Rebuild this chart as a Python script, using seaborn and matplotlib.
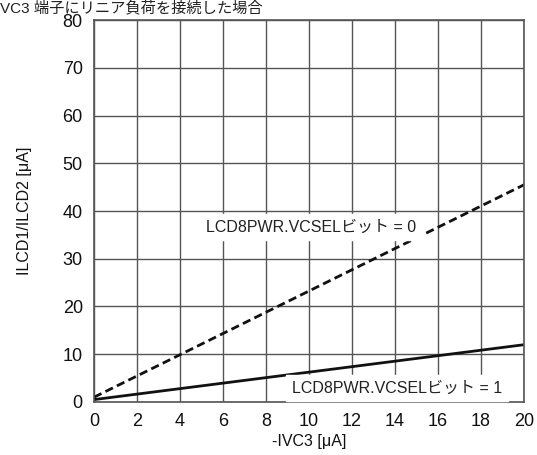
import numpy as np
import pandas as pd
import seaborn as sns
import matplotlib.pyplot as plt

# Values
ivc3 = [0, 20]
vcsel0 = [1.0, 45.5]
vcsel1 = [0.5, 12.0]
x_ticks = list(range(0, 21, 2))
y_ticks = list(range(0, 81, 10))

df = pd.DataFrame({
    'IVC3': ivc3 * 2,
    'ILCD': vcsel0 + vcsel1,
    'VCSEL': ['0'] * 2 + ['1'] * 2,
})

sns.set_style('white')
plt.rcParams['font.family'] = ['Liberation Sans', 'Noto Sans CJK JP', 'DejaVu Sans']

fig = plt.figure(figsize=(5.37, 4.55), dpi=100)
ax = fig.add_axes([0.175, 0.1165, 0.801, 0.8395])

sns.lineplot(data=df, x='IVC3', y='ILCD', style='VCSEL',
             dashes={'0': (3, 1.6), '1': ''}, color='#111111',
             linewidth=2, legend=False, ax=ax)

ax.set_xlim(0, 20)
ax.set_ylim(0, 80)
ax.set_xticks(x_ticks)
ax.set_yticks(y_ticks)
ax.grid(True, color='#555555', linewidth=1)
for s in ax.spines.values():
    s.set_color('#555555')
    s.set_linewidth(1.2)
ax.tick_params(labelsize=13, length=0, pad=8, colors='#111111')

ax.set_xlabel('-IVC3 [μA]', fontsize=11.5, labelpad=3, color='#111111')
ax.set_ylabel('ILCD1/ILCD2 [μA]', fontsize=11.5, labelpad=22, color='#111111')

ax.text(5.2, 36.6, 'LCD8PWR.VCSELビット = 0', fontsize=11.5, va='center',
        color='#222222', backgroundcolor='white')
ax.text(9.2, 2.9, 'LCD8PWR.VCSELビット = 1', fontsize=11.5, va='center',
        color='#222222', backgroundcolor='white')

fig.text(0.0, 0.999, 'VC3 端子にリニア負荷を接続した場合', fontsize=11,
         va='top', color='#222222')

fig.savefig('out.png', dpi=100)
